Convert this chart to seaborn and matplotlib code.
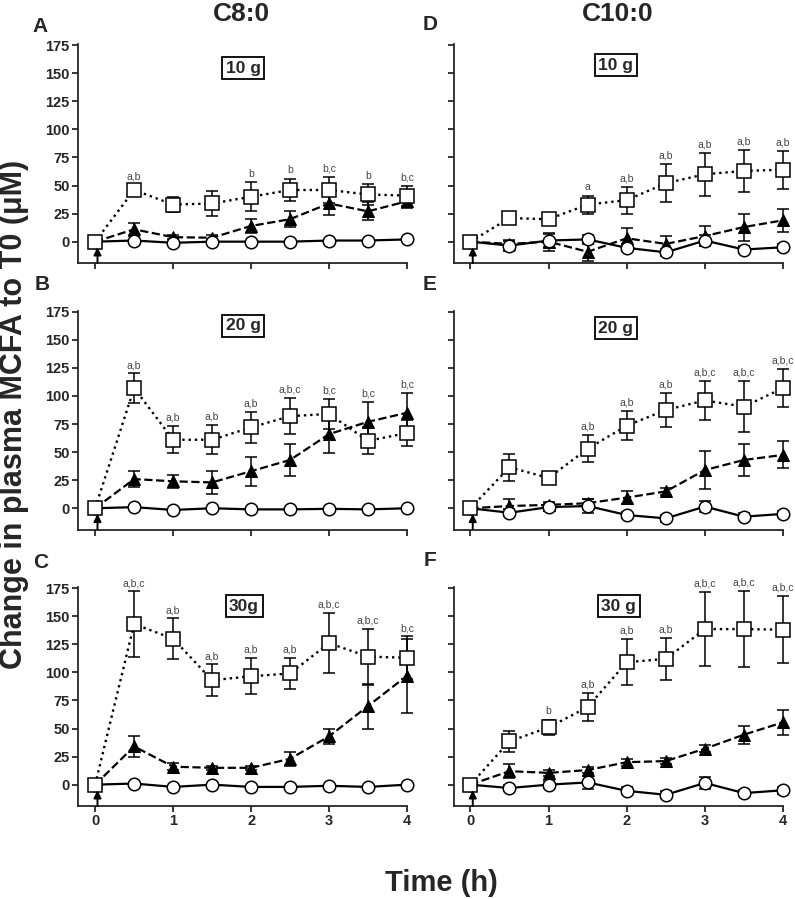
import matplotlib
matplotlib.use('Agg')
import matplotlib.pyplot as plt
import seaborn as sns

# time points (h)
time = [0, 0.5, 1, 1.5, 2, 2.5, 3, 3.5, 4]

# C8:0, 10 g
c8_10_sq = [0, 46, 33, 34, 40, 46, 46, 42, 41]
c8_10_sq_err = [0, 5, 6.5, 11, 13, 10, 12, 9, 9]
c8_10_tri = [0, 11, 4, 3.5, 14, 20, 34, 27, 36]
c8_10_tri_err = [0, 6, 2, 2, 6.5, 7, 10, 8, 6]
c8_10_circ = [0, 1, -1, 0, 0, 0, 1, 1, 2]
c8_10_circ_err = [0, 0, 0, 0, 0, 0, 0, 0, 0]
c8_10_labels = ['', 'a,b', '', '', 'b', 'b', 'b,c', 'b', 'b,c']

# C8:0, 20 g
c8_20_sq = [0, 107, 61, 61, 72, 82, 84, 60, 67]
c8_20_sq_err = [0, 13, 12, 13, 14, 16, 13, 12, 12]
c8_20_tri = [0, 26, 24, 23, 33, 43, 66, 77, 85]
c8_20_tri_err = [0, 7, 6, 10, 13, 14, 17, 18, 18]
c8_20_circ = [0, 1, -1.5, 0, -1, -1, -0.5, -1, 0]
c8_20_circ_err = [0, 0, 0, 0, 0, 0, 0, 0, 0]
c8_20_labels = ['', 'a,b', 'a,b', 'a,b', 'a,b', 'a,b,c', 'b,c', 'b,c', 'b,c']

# C8:0, 30 g
c8_30_sq = [0, 143, 130, 93, 96.5, 99, 126, 114, 113]
c8_30_sq_err = [0, 29, 18, 14, 16, 14, 27, 25, 19]
c8_30_tri = [0, 34, 16, 15, 15, 23, 43, 70, 97]
c8_30_tri_err = [0, 9, 3, 2, 2, 6, 7, 20, 33]
c8_30_circ = [0, 1, -2, 0, -2, -2, -1, -2, 0]
c8_30_circ_err = [0, 0, 0, 0, 0, 0, 0, 0, 0]
c8_30_labels = ['', 'a,b,c', 'a,b', 'a,b', 'a,b', 'a,b', 'a,b,c', 'a,b,c', 'b,c']

# C10:0, 10 g
c10_10_sq = [0, 21, 20, 33, 37, 52, 60, 63, 64]
c10_10_sq_err = [0, 3, 3, 8, 12, 17, 19, 19, 17]
c10_10_tri = [0, -2, 0, -9, 3, -2, 5, 13, 19]
c10_10_tri_err = [0, 3, 8, 8, 9, 7, 9, 12, 10]
c10_10_circ = [0, -3.5, 1, 2, -5.5, -9.5, 1, -7, -5]
c10_10_circ_err = [0, 5, 6, 4, 3, 3, 5, 3, 3]
c10_10_labels = ['', '', '', 'a', 'a,b', 'a,b', 'a,b', 'a,b', 'a,b']

# C10:0, 20 g
c10_20_sq = [0, 36.5, 27, 53, 73.5, 87.5, 96, 90.5, 107]
c10_20_sq_err = [0, 12, 3, 12, 13, 15, 17, 23, 17]
c10_20_tri = [0, 2, 3, 4.5, 9.5, 15, 34, 43, 47.5]
c10_20_tri_err = [0, 6, 3, 4, 6, 3, 17, 14, 12]
c10_20_circ = [0, -4, 1, 2, -6, -9, 1.5, -7.5, -5]
c10_20_circ_err = [0, 3, 3, 6, 3, 3, 5, 3, 3]
c10_20_labels = ['', '', '', 'a,b', 'a,b', 'a,b', 'a,b,c', 'a,b,c', 'a,b,c']

# C10:0, 30 g
c10_30_sq = [0, 38.5, 51, 69, 109, 112, 138.5, 138.5, 138]
c10_30_sq_err = [0, 9, 7, 12.5, 20.5, 19, 33, 34, 30]
c10_30_tri = [0, 12, 10.5, 13, 20, 21, 32, 44.5, 55.5]
c10_30_tri_err = [0, 6, 3, 3, 3, 3, 3, 8, 11]
c10_30_circ = [0, -3, 0, 2, -5.5, -9, 1.5, -7.5, -5]
c10_30_circ_err = [0, 3, 3, 6, 3, 3, 5, 3, 3]
c10_30_labels = ['', '', 'b', 'a,b', 'a,b', 'a,b', 'a,b,c', 'a,b,c', 'a,b,c']

columns = ['C8:0', 'C10:0']
doses = [['10 g', '20 g', '30g'], ['10 g', '20 g', '30 g']]
panel_letters = [['A', 'B', 'C'], ['D', 'E', 'F']]
yticks = [0, 25, 50, 75, 100, 125, 150, 175]
xticks = [0, 1, 2, 3, 4]

panels = [
    [(c8_10_sq, c8_10_sq_err, c8_10_tri, c8_10_tri_err, c8_10_circ, c8_10_circ_err, c8_10_labels),
     (c8_20_sq, c8_20_sq_err, c8_20_tri, c8_20_tri_err, c8_20_circ, c8_20_circ_err, c8_20_labels),
     (c8_30_sq, c8_30_sq_err, c8_30_tri, c8_30_tri_err, c8_30_circ, c8_30_circ_err, c8_30_labels)],
    [(c10_10_sq, c10_10_sq_err, c10_10_tri, c10_10_tri_err, c10_10_circ, c10_10_circ_err, c10_10_labels),
     (c10_20_sq, c10_20_sq_err, c10_20_tri, c10_20_tri_err, c10_20_circ, c10_20_circ_err, c10_20_labels),
     (c10_30_sq, c10_30_sq_err, c10_30_tri, c10_30_tri_err, c10_30_circ, c10_30_circ_err, c10_30_labels)],
]

sns.set_style('ticks')
plt.rcParams['font.family'] = ['Liberation Sans', 'DejaVu Sans']
plt.rcParams['font.weight'] = 'bold'

W, H = 795, 899
fig = plt.figure(figsize=(W / 100, H / 100), dpi=100)

# layout in pixels
col_left = [78, 454]
col_width = 329
row_top = [44, 310.6, 587]
row_height = 219
xlims = [(-0.22, 4.0), (-0.21, 4.0)]
box_pos = [[(1.90, 154.5), (1.90, 162.5), (1.91, 159)],
           [(1.86, 157), (1.86, 160.5), (1.90, 159)]]
letter_pos = [[(40, 26), (42, 285), (41, 562)],
              [(430, 25), (430, 285), (430, 560)]]

for c in range(2):
    for r in range(3):
        sq, sq_err, tri, tri_err, circ, circ_err, labels = panels[c][r]
        ax = fig.add_axes([col_left[c] / W, 1 - (row_top[r] + row_height) / H,
                           col_width / W, row_height / H])

        eb = dict(fmt='none', ecolor='black', elinewidth=1.1, capsize=4.5,
                  capthick=1.1, clip_on=False)
        ax.errorbar(time, circ, yerr=circ_err, zorder=2, **eb)
        ax.errorbar(time, tri, yerr=tri_err, zorder=2, **eb)
        ax.errorbar(time, sq, yerr=sq_err, zorder=2, **eb)

        sns.lineplot(x=time, y=tri, ax=ax, color='black', linestyle='--', linewidth=1.6,
                     marker='^', markersize=8.5, markerfacecolor='black',
                     markeredgecolor='black', zorder=3, clip_on=False, errorbar=None)
        sns.lineplot(x=time, y=circ, ax=ax, color='black', linestyle='-', linewidth=1.6,
                     marker='o', markersize=9, markerfacecolor='white',
                     markeredgecolor='black', markeredgewidth=1.1, zorder=4,
                     clip_on=False, errorbar=None)
        sns.lineplot(x=time, y=sq, ax=ax, color='black', linestyle=':', linewidth=1.7,
                     marker='s', markersize=9.5, markerfacecolor='white',
                     markeredgecolor='black', markeredgewidth=1.1, zorder=5,
                     clip_on=False, errorbar=None)

        # significance letters above the error bars
        for t, s, se, tr, te, lab in zip(time, sq, sq_err, tri, tri_err, labels):
            if lab:
                top = max(s + se, tr + te)
                ax.text(t, top + 3, lab, ha='center', va='bottom', fontsize=7.5,
                        fontweight='normal', color='#444444')

        # dose box
        bx, by = box_pos[c][r]
        ax.text(bx, by, doses[c][r], ha='center', va='center', fontsize=12.5,
                fontweight='bold',
                bbox=dict(boxstyle='square,pad=0.2', facecolor='white',
                          edgecolor='black', linewidth=1.3))

        # arrow at time of intake
        ax.annotate('', xy=(0.03, -5), xytext=(0.03, -19),
                    arrowprops=dict(arrowstyle='-|>', color='black', lw=1.4,
                                    mutation_scale=11, shrinkA=0, shrinkB=0),
                    zorder=6)

        ax.set_xlim(*xlims[c])
        ax.set_ylim(-19, 176)
        ax.set_xticks(xticks)
        ax.set_yticks(yticks)
        ax.set_xlabel('')
        ax.set_ylabel('')
        sns.despine(ax=ax)
        for sp in ['left', 'bottom']:
            ax.spines[sp].set_linewidth(1.3)
        ax.tick_params(direction='out', length=4, width=1.3, labelsize=10.5, pad=2)
        if c == 1:
            ax.tick_params(labelleft=False)
        if r < 2:
            ax.tick_params(labelbottom=False)
        for lbl in ax.get_xticklabels() + ax.get_yticklabels():
            lbl.set_fontweight('bold')

        lx, ly = letter_pos[c][r]
        fig.text(lx / W, 1 - ly / H, panel_letters[c][r], ha='center', va='center',
                 fontsize=15, fontweight='bold')

    fig.text((col_left[c] + col_width / 2 - 1) / W, 1 - 14 / H, columns[c],
             ha='center', va='center', fontsize=19, fontweight='bold')

fig.text(14 / W, 1 - 414 / H, 'Change in plasma MCFA to T0 (\u03bcM)', rotation=90,
         ha='center', va='center', fontsize=22, fontweight='bold')
fig.text(441 / W, 1 - 883 / H, 'Time (h)', ha='center', va='center',
         fontsize=21, fontweight='bold')

fig.savefig('out.png', dpi=100)
